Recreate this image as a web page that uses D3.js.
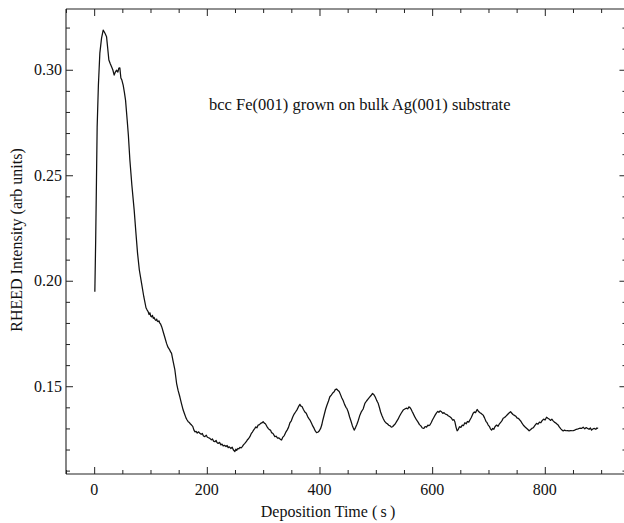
<!DOCTYPE html>
<html>
<head>
<meta charset="utf-8">
<script src="https://cdn.jsdelivr.net/npm/d3@7"></script>
<style>
  html, body { margin: 0; padding: 0; background: #fff; }
  svg { display: block; }
  text { font-family: "Liberation Serif", "Times New Roman", serif; fill: #111; }
</style>
</head>
<body>
<svg id="chart" width="624" height="523"></svg>
<script>
// Deposition time (s) and RHEED specular intensity (arb units)
const time = [
  1.2, 2.7, 4.1, 5.3, 7.5, 10.1, 13.1, 16.0, 19.0, 22.0, 24.0, 26.1, 28.8, 30.9, 33.2, 35.5, 37.6, 39.8, 42.1, 43.8,
  45.6, 46.7, 47.4, 49.2, 51.5, 53.6, 55.7, 58.6, 60.7, 63.4, 66.9, 71.0, 74.0, 77.0, 80.2, 84.1, 88.2, 92.0, 94.1, 95.9,
  97.5, 99.0, 100.5, 101.9, 103.5, 105.0, 106.4, 107.8, 109.5, 111.0, 112.3, 113.6, 115.2, 116.5, 117.9, 120.0, 122.5, 125.5, 128.5, 131.0,
  133.5, 135.5, 137.4, 140.0, 143.3, 146.3, 149.0, 152.1, 155.0, 158.0, 160.5, 163.0, 165.0, 166.9, 169.0, 171.0, 172.9, 175.0, 177.0, 178.8,
  181.0, 183.0, 185.5, 187.6, 190.0, 192.0, 194.0, 196.5, 199.0, 201.0, 203.0, 205.4, 208.0, 210.0, 212.0, 214.3, 216.5, 218.0, 220.1, 222.5,
  225.0, 227.0, 229.0, 231.5, 234.0, 236.0, 237.9, 240.0, 242.5, 245.0, 247.0, 249.8, 251.5, 253.0, 255.0, 256.8, 258.7, 261.0, 263.0, 265.0,
  267.5, 270.0, 272.0, 274.0, 276.4, 279.0, 281.0, 283.0, 285.3, 287.0, 289.0, 291.1, 293.5, 295.5, 297.5, 300.0, 302.0, 304.0, 306.5, 308.9,
  311.0, 313.0, 315.0, 317.5, 320.8, 323.0, 325.5, 328.0, 330.5, 332.7, 335.0, 337.5, 340.0, 342.5, 345.0, 347.4, 350.0, 352.5, 355.0, 357.5,
  360.0, 362.5, 365.2, 367.0, 369.0, 371.5, 374.0, 376.5, 379.0, 381.5, 383.5, 385.9, 388.0, 390.5, 392.5, 394.8, 397.0, 399.5, 402.0, 404.0,
  406.0, 408.5, 411.0, 413.5, 416.0, 418.4, 421.0, 423.5, 426.0, 428.0, 430.3, 432.5, 435.0, 437.5, 439.7, 442.0, 444.5, 447.0, 448.5, 450.9,
  453.5, 456.0, 458.5, 461.6, 464.0, 466.5, 469.0, 471.7, 474.5, 477.5, 480.6, 483.5, 486.5, 489.0, 491.5, 494.2, 496.5, 499.0, 501.5, 503.0,
  504.2, 506.5, 508.5, 511.0, 513.5, 516.1, 518.5, 520.5, 523.0, 525.5, 527.5, 529.7, 532.0, 534.0, 536.8, 539.5, 542.0, 545.0, 548.6, 551.5,
  554.0, 557.0, 558.5, 560.4, 562.5, 564.5, 566.5, 569.0, 572.3, 575.0, 577.5, 580.0, 582.5, 585.3, 587.5, 590.0, 592.5, 594.0, 596.0, 598.5,
  600.5, 603.0, 605.5, 607.8, 610.0, 612.0, 614.0, 616.7, 619.0, 621.0, 623.5, 626.0, 628.5, 631.5, 634.0, 636.5, 638.5, 640.3, 642.5, 644.4,
  646.5, 648.5, 651.0, 653.5, 655.5, 658.1, 660.5, 662.5, 665.0, 667.0, 669.5, 672.8, 675.0, 677.0, 679.9, 682.5, 685.0, 687.5, 690.6, 693.0,
  695.5, 697.5, 699.5, 701.5, 703.5, 705.5, 707.5, 709.5, 711.5, 714.4, 717.0, 719.5, 722.0, 724.0, 726.1, 728.5, 731.0, 733.5, 736.0, 739.2,
  741.5, 743.5, 746.0, 748.5, 750.5, 752.7, 755.0, 757.5, 759.5, 762.0, 764.6, 767.0, 769.5, 772.2, 774.5, 777.0, 779.5, 782.5, 785.4, 788.0,
  790.5, 793.0, 795.5, 798.0, 800.5, 803.1, 805.5, 807.5, 810.0, 812.5, 814.8, 817.0, 819.5, 821.5, 823.7, 826.0, 828.5, 830.5, 832.6, 835.0,
  837.5, 840.0, 843.0, 846.0, 850.3, 853.0, 856.0, 859.0, 862.0, 865.0, 868.1, 871.0, 873.5, 876.0, 878.5, 881.0, 883.0, 885.5, 888.0, 890.5,
  892.5, 894.7
];
const intensity = [
  .1948, .2193, .2477, .2728, .2927, .3079, .3150, .3188, .3174, .3156, .3103, .3046, .3027, .3014, .2999, .2975, .2989, .2998, .2989, .3008,
  .3009, .2980, .2961, .2951, .2927, .2894, .2856, .2762, .2691, .2572, .2454, .2336, .2231, .2131, .2051, .1989, .1923, .1872, .1861, .1853,
  .1840, .1848, .1832, .1829, .1836, .1822, .1826, .1817, .1812, .1818, .1808, .1806, .1810, .1799, .1795, .1781, .1758, .1731, .1703, .1685,
  .1675, .1664, .1656, .1620, .1577, .1514, .1480, .1450, .1418, .1387, .1368, .1350, .1340, .1332, .1328, .1321, .1316, .1310, .1293, .1284,
  .1286, .1278, .1284, .1277, .1272, .1276, .1264, .1261, .1268, .1258, .1256, .1253, .1246, .1250, .1240, .1237, .1243, .1233, .1229, .1234,
  .1222, .1226, .1217, .1220, .1214, .1219, .1209, .1213, .1205, .1211, .1199, .1190, .1202, .1196, .1205, .1203, .1210, .1208, .1214, .1222,
  .1229, .1237, .1246, .1251, .1261, .1276, .1283, .1292, .1300, .1307, .1303, .1316, .1318, .1324, .1326, .1332, .1325, .1322, .1310, .1300,
  .1294, .1292, .1280, .1276, .1261, .1263, .1254, .1255, .1248, .1245, .1259, .1266, .1281, .1292, .1305, .1326, .1336, .1354, .1368, .1378,
  .1388, .1402, .1414, .1406, .1404, .1390, .1378, .1372, .1356, .1345, .1338, .1324, .1312, .1300, .1288, .1280, .1282, .1288, .1300, .1316,
  .1340, .1366, .1392, .1412, .1430, .1450, .1458, .1468, .1474, .1484, .1487, .1481, .1475, .1459, .1444, .1432, .1414, .1400, .1395, .1379,
  .1354, .1334, .1312, .1292, .1304, .1320, .1339, .1363, .1380, .1392, .1419, .1430, .1440, .1448, .1456, .1466, .1460, .1449, .1433, .1425,
  .1419, .1398, .1378, .1360, .1345, .1332, .1325, .1322, .1315, .1312, .1306, .1308, .1315, .1320, .1332, .1344, .1358, .1372, .1387, .1392,
  .1396, .1393, .1402, .1400, .1392, .1380, .1370, .1356, .1340, .1330, .1318, .1312, .1302, .1300, .1309, .1306, .1316, .1313, .1316, .1328,
  .1340, .1352, .1364, .1374, .1381, .1376, .1383, .1379, .1371, .1375, .1368, .1366, .1360, .1355, .1350, .1339, .1342, .1332, .1305, .1289,
  .1296, .1308, .1305, .1316, .1313, .1327, .1322, .1333, .1330, .1340, .1352, .1372, .1378, .1375, .1390, .1380, .1374, .1370, .1363, .1350,
  .1334, .1327, .1316, .1310, .1298, .1292, .1300, .1296, .1308, .1316, .1310, .1322, .1330, .1337, .1348, .1352, .1358, .1365, .1372, .1379,
  .1372, .1366, .1362, .1358, .1350, .1348, .1342, .1334, .1325, .1315, .1308, .1302, .1296, .1289, .1294, .1300, .1303, .1314, .1324, .1320,
  .1330, .1327, .1338, .1344, .1340, .1353, .1348, .1345, .1338, .1344, .1336, .1330, .1326, .1321, .1316, .1306, .1298, .1292, .1288, .1292,
  .1289, .1290, .1288, .1290, .1289, .1292, .1296, .1298, .1301, .1300, .1306, .1298, .1304, .1300, .1296, .1302, .1292, .1298, .1300, .1296,
  .1302, .1300
];

const xTickValues = [0, 200, 400, 600, 800];
const xMinorValues = [-50, 50, 100, 150, 250, 300, 350, 450, 500, 550, 650, 700, 750, 850, 900];
const yTickValues = [0.15, 0.20, 0.25, 0.30];
const yMinorValues = [0.11, 0.12, 0.13, 0.14, 0.16, 0.17, 0.18, 0.19, 0.21, 0.22, 0.23, 0.24, 0.26, 0.27, 0.28, 0.29, 0.31, 0.32];
const xDomain = [-50, 945];
const yDomain = [0.1084, 0.3288];

const xLabel = "Deposition Time (\u2009s\u2009)";
const yLabel = "RHEED Intensity (arb units)";
const note = "bcc Fe(001) grown on bulk Ag(001) substrate";

const svg = d3.select("#chart");
const plotLeft = 66, plotTop = 9, plotBottom = 474;
const plotRight = plotLeft + (xDomain[1] - xDomain[0]) * 0.5633;

const x = d3.scaleLinear().domain(xDomain).range([plotLeft, plotRight]);
const y = d3.scaleLinear().domain(yDomain).range([plotBottom, plotTop]);

// frame lines
const axisColor = "#222";
svg.append("g").selectAll("line")
  .data([[plotLeft, plotTop, plotRight, plotTop], [plotLeft, plotBottom, plotRight, plotBottom],
         [plotLeft, plotTop, plotLeft, plotBottom], [plotRight, plotTop, plotRight, plotBottom]])
  .join("line")
  .attr("x1", d => d[0]).attr("y1", d => d[1]).attr("x2", d => d[2]).attr("y2", d => d[3])
  .attr("stroke", axisColor).attr("stroke-width", 1.1);

// inward ticks on all four sides via d3 axes
function tickStyle(g) {
  g.select(".domain").remove();
  g.selectAll(".tick line").attr("stroke", axisColor).attr("stroke-width", 1);
  g.selectAll(".tick text").remove();
}
svg.append("g").attr("transform", `translate(0,${plotBottom})`)
  .call(d3.axisBottom(x).tickValues(xTickValues).tickSize(-7)).call(tickStyle);
svg.append("g").attr("transform", `translate(0,${plotBottom})`)
  .call(d3.axisBottom(x).tickValues(xMinorValues).tickSize(-4)).call(tickStyle);
svg.append("g").attr("transform", `translate(0,${plotTop})`)
  .call(d3.axisTop(x).tickValues(xTickValues).tickSize(-7)).call(tickStyle);
svg.append("g").attr("transform", `translate(0,${plotTop})`)
  .call(d3.axisTop(x).tickValues(xMinorValues).tickSize(-4)).call(tickStyle);
svg.append("g").attr("transform", `translate(${plotLeft},0)`)
  .call(d3.axisLeft(y).tickValues(yTickValues).tickSize(-7)).call(tickStyle);
svg.append("g").attr("transform", `translate(${plotLeft},0)`)
  .call(d3.axisLeft(y).tickValues(yMinorValues).tickSize(-4)).call(tickStyle);
svg.append("g").attr("transform", `translate(${plotRight},0)`)
  .call(d3.axisRight(y).tickValues(yTickValues).tickSize(-7)).call(tickStyle);
svg.append("g").attr("transform", `translate(${plotRight},0)`)
  .call(d3.axisRight(y).tickValues(yMinorValues).tickSize(-4)).call(tickStyle);

// tick labels
svg.append("g").selectAll("text").data(xTickValues).join("text")
  .attr("x", d => x(d)).attr("y", 495)
  .attr("text-anchor", "middle").attr("font-size", 16)
  .text(d => d3.format("d")(d));
svg.append("g").selectAll("text").data(yTickValues).join("text")
  .attr("x", 62).attr("y", d => y(d)).attr("dy", "0.33em")
  .attr("text-anchor", "end").attr("font-size", 16)
  .text(d => d3.format(".2f")(d));

// axis titles
svg.append("text").attr("x", 328).attr("y", 517)
  .attr("text-anchor", "middle").attr("font-size", 16).text(xLabel);
svg.append("text").attr("transform", "translate(22,240) rotate(-90)")
  .attr("text-anchor", "middle").attr("font-size", 16).text(yLabel);

// annotation
svg.append("text").attr("x", 209).attr("y", 110)
  .attr("font-size", 16.5).text(note);

// intensity trace
const line = d3.line().x(d => x(d[0])).y(d => y(d[1]));
svg.append("path")
  .datum(time.map((t, i) => [t, intensity[i]]))
  .attr("d", line)
  .attr("fill", "none")
  .attr("stroke", "#111")
  .attr("stroke-width", 1.25)
  .attr("stroke-linejoin", "round");
</script>
</body>
</html>
